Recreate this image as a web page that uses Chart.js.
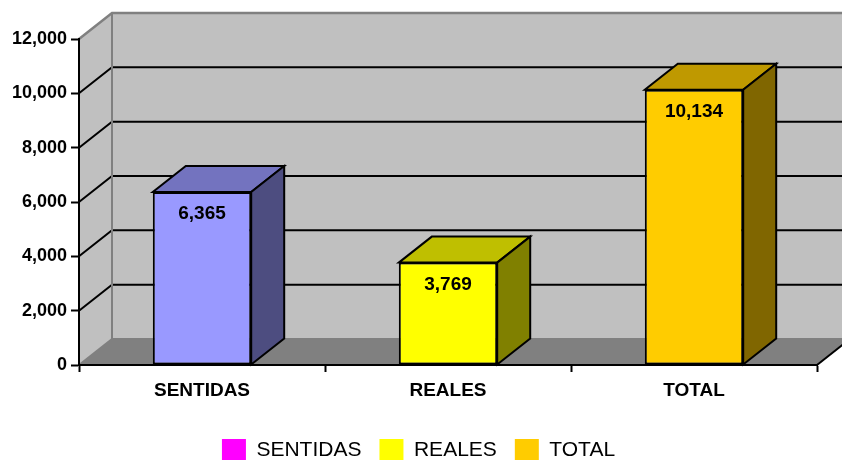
<!DOCTYPE html>
<html><head><meta charset="utf-8">
<script src="https://cdn.jsdelivr.net/npm/chart.js@4/dist/chart.umd.min.js"></script>
<style>html,body{margin:0;padding:0;background:#fff}</style>
</head><body>
<canvas id="c" width="842" height="460"></canvas>
<script>
const categories = ['SENTIDAS', 'REALES', 'TOTAL'];
const values = [6365, 3769, 10134];
const barColors = ['#9999FF', '#FFFF00', '#FFCC00'];
const legendColors = ['#FF00FF', '#FFFF00', '#FFCC00'];
const yTicks = [0, 2000, 4000, 6000, 8000, 10000, 12000];

const FONT = '"Liberation Sans", Arial, sans-serif';
const DX = 33, DY = -26;

function shade(hex, f) {
  const n = parseInt(hex.slice(1), 16);
  const r = (n >> 16) & 255, g = (n >> 8) & 255, b = n & 255;
  return `rgb(${Math.round(r * f)},${Math.round(g * f)},${Math.round(b * f)})`;
}

const fmt = v => Number(v).toLocaleString('en-US');

const threeD = {
  id: 'threeD',
  afterLayout(chart) {
    chart.legend.top += 12;
    chart.legend.bottom += 12;
    chart.legend.left += 10;
    chart.legend.right += 10;
  },
  beforeDraw(chart) {
    const { ctx, chartArea: a, scales: { y } } = chart;
    const L = a.left, R = a.right, T = a.top, B = a.bottom;
    ctx.save();
    ctx.fillStyle = '#fff';
    ctx.fillRect(0, 0, chart.width, chart.height);
    // back wall
    ctx.fillStyle = '#C0C0C0';
    ctx.fillRect(L + DX, T + DY, R - L + 40, B - T);
    // side wall
    ctx.beginPath();
    ctx.moveTo(L, B); ctx.lineTo(L, T); ctx.lineTo(L + DX, T + DY); ctx.lineTo(L + DX, B + DY);
    ctx.closePath(); ctx.fill();
    // floor
    ctx.fillStyle = '#808080';
    ctx.beginPath();
    ctx.moveTo(L, B); ctx.lineTo(R, B); ctx.lineTo(R + DX, B + DY); ctx.lineTo(L + DX, B + DY);
    ctx.closePath(); ctx.fill();
    // gridlines
    ctx.lineWidth = 2;
    ctx.strokeStyle = '#000';
    yTicks.forEach(v => {
      if (v === y.min || v === y.max) return;
      const py = y.getPixelForValue(v);
      ctx.beginPath();
      ctx.moveTo(L, py); ctx.lineTo(L + DX, py + DY); ctx.lineTo(R + DX + 40, py + DY);
      ctx.stroke();
    });
    // gray wall edges
    ctx.strokeStyle = '#808080';
    ctx.lineWidth = 2.5;
    ctx.beginPath();
    ctx.moveTo(L, T); ctx.lineTo(L + DX, T + DY); ctx.lineTo(R + DX + 40, T + DY);
    ctx.stroke();
    ctx.lineWidth = 2;
    ctx.beginPath();
    ctx.moveTo(L + DX, T + DY); ctx.lineTo(L + DX, B + DY); ctx.lineTo(R + DX + 40, B + DY);
    ctx.stroke();
    ctx.beginPath();
    ctx.moveTo(L, B); ctx.lineTo(L + DX, B + DY);
    ctx.stroke();
    // floor right edge
    ctx.strokeStyle = '#000';
    ctx.beginPath();
    ctx.moveTo(R, B); ctx.lineTo(R + DX, B + DY);
    ctx.stroke();
    ctx.restore();
  },
  afterDatasetsDraw(chart) {
    const { ctx } = chart;
    const meta = chart.getDatasetMeta(0);
    ctx.save();
    ctx.lineWidth = 2;
    ctx.strokeStyle = '#000';
    ctx.lineJoin = 'miter';
    meta.data.forEach((bar, i) => {
      const { x, y, base, width } = bar.getProps(['x', 'y', 'base', 'width'], true);
      const xl = x - width / 2, xr = x + width / 2;
      const col = barColors[i];
      // top face
      ctx.fillStyle = shade(col, 0.75);
      ctx.beginPath();
      ctx.moveTo(xl, y); ctx.lineTo(xr, y); ctx.lineTo(xr + DX, y + DY); ctx.lineTo(xl + DX, y + DY);
      ctx.closePath(); ctx.fill(); ctx.stroke();
      // side face
      ctx.fillStyle = shade(col, 0.5);
      ctx.beginPath();
      ctx.moveTo(xr, y); ctx.lineTo(xr, base); ctx.lineTo(xr + DX, base + DY); ctx.lineTo(xr + DX, y + DY);
      ctx.closePath(); ctx.fill(); ctx.stroke();
      // label
      ctx.fillStyle = '#000';
      ctx.font = `bold 19px ${FONT}`;
      ctx.textAlign = 'center';
      ctx.textBaseline = 'middle';
      ctx.fillText(fmt(values[i]), x, y + 22);
    });
    ctx.restore();
  }
};

new Chart(document.getElementById('c'), {
  type: 'bar',
  data: {
    labels: categories,
    datasets: [{
      data: values,
      backgroundColor: barColors,
      borderColor: '#000',
      borderWidth: 2,
      borderSkipped: false,
      categoryPercentage: 1,
      barPercentage: 0.4
    }]
  },
  options: {
    responsive: false,
    animation: false,
    devicePixelRatio: 1,
    layout: { padding: { top: 39, right: 25, left: 0, bottom: 0 } },
    plugins: {
      tooltip: { enabled: false },
      legend: {
        position: 'bottom',
        labels: {
          boxWidth: 24,
          boxHeight: 23,
          padding: 18,
          color: '#000',
          font: { family: FONT, size: 21 },
          generateLabels: () => categories.map((c, i) => ({
            text: c, fillStyle: legendColors[i], strokeStyle: legendColors[i],
            lineWidth: 0, hidden: false, index: i, fontColor: '#000'
          }))
        }
      }
    },
    scales: {
      x: {
        grid: { display: true, drawOnChartArea: false, drawTicks: true, tickLength: 7, tickWidth: 2, tickColor: '#000', offset: true },
        border: { display: true, color: '#000', width: 2 },
        ticks: { color: '#000', font: { family: FONT, size: 19, weight: 'bold' }, padding: 7, maxRotation: 0 },
        afterFit(s) { s.height = 44; }
      },
      y: {
        min: 0, max: 12000,
        afterBuildTicks(s) { s.ticks = yTicks.map(v => ({ value: v })); },
        grid: { drawOnChartArea: false, drawTicks: true, tickLength: 8, tickWidth: 2, tickColor: '#000' },
        border: { display: true, color: '#000', width: 2 },
        ticks: { color: '#000', font: { family: FONT, size: 18, weight: 'bold' }, padding: 4, callback: v => fmt(v) },
        afterFit(s) { s.width = 79; }
      }
    }
  },
  plugins: [threeD]
});
</script>
</body></html>
